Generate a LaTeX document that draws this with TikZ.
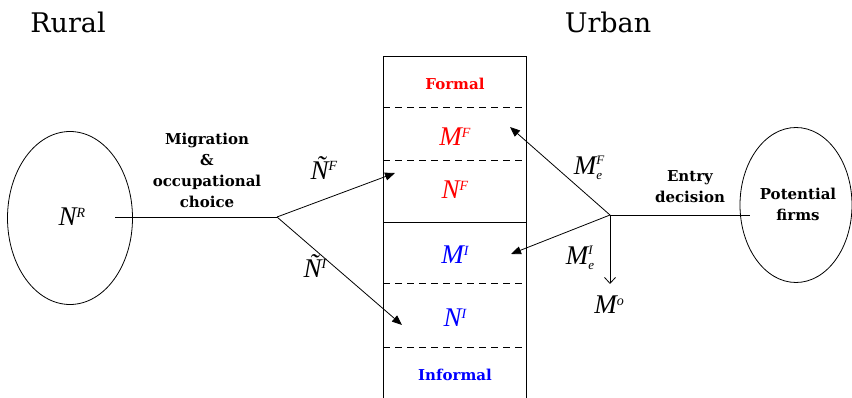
\documentclass[tikz,border=0pt]{standalone}
\usepackage{fontspec}
\setmainfont{Liberation Serif}
\newfontfamily\lblfont{DejaVu Serif}
\usetikzlibrary{arrows.meta,shapes.geometric}
\definecolor{fred}{RGB}{255,0,0}
\definecolor{iblue}{RGB}{0,0,255}
\newcommand\vsup[2]{#1\raisebox{8.6pt}{\fontsize{14}{14}\selectfont #2}}
\newcommand\vsupsub[3]{#1\rlap{\raisebox{10pt}{\fontsize{13}{13}\selectfont #2}}\raisebox{-5pt}{\fontsize{13}{13}\selectfont #3}}
\begin{document}
\begin{tikzpicture}[x=1pt,y=-1pt,
  head/.style={font=\lblfont\fontsize{27}{27}\selectfont, inner sep=0},
  lbl/.style={font=\lblfont\bfseries\fontsize{15}{21}\selectfont, align=center, inner sep=0},
  var/.style={font=\itshape\fontsize{27}{27}\selectfont, inner sep=0},
  arr/.style={-{Triangle[length=10pt,width=8pt]}, line width=0.8pt},
  oarr/.style={-{Straight Barb[length=6pt,width=11pt]}, line width=0.8pt},
  ln/.style={line width=0.8pt},
  dsh/.style={line width=0.8pt, dash pattern=on 7pt off 5pt},
  oval/.style={draw, ellipse, line width=0.8pt, inner sep=0}]
\useasboundingbox (0,0) rectangle (852,398);

% headings
\node[head] (rural) at (68,22) {Rural};
\node[head] (urban) at (608,22) {Urban};

% rural ellipse
\node[oval, minimum width=125pt, minimum height=173pt] (rell) at (70,218) {};
\node[var] (NR) at (72,217) {\vsup{N}{R}};
\coordinate (rstart) at (115,217);
\coordinate (rb) at (277,217);
\draw[ln] (rstart) -- (rb);
\node[lbl] (mig) at (207,170) {Migration\\\&\\occupational\\choice};

% urban column
\coordinate (bl) at (383,398);
\coordinate (tl) at (383,56);
\coordinate (tr) at (526,56);
\coordinate (br) at (526,398);
\draw[ln] (bl) -- (tl) -- (tr) -- (br);
\coordinate (d1l) at (383,107); \coordinate (d1r) at (526,107);
\coordinate (d2l) at (383,160); \coordinate (d2r) at (526,160);
\coordinate (sl) at (383,222);  \coordinate (sr) at (526,222);
\coordinate (d3l) at (383,283); \coordinate (d3r) at (526,283);
\coordinate (d4l) at (383,347); \coordinate (d4r) at (526,347);
\draw[dsh] (d1l) -- (d1r);
\draw[dsh] (d2l) -- (d2r);
\draw[ln] (sl) -- (sr);
\draw[dsh] (d3l) -- (d3r);
\draw[dsh] (d4l) -- (d4r);

\node[lbl, text=fred] (formal) at (455,84) {Formal};
\node[var, text=fred] (MF) at (455,137) {\vsup{M}{F}};
\node[var, text=fred] (NF) at (455,190) {\vsup{N}{F}};
\node[var, text=iblue] (MI) at (455,255) {\vsup{M}{I}};
\node[var, text=iblue] (NI) at (455,318) {\vsup{N}{I}};
\node[lbl, text=iblue] (informal) at (455,375) {Informal};

% left arrows
\coordinate (tNF) at (395,173);
\coordinate (tNI) at (402,325);
\draw[arr] (rb) -- (tNF);
\draw[arr] (rb) -- (tNI);
\node[var] (tilNF) at (324,168) {\vsup{Ñ}{F}};
\node[var] (tilNI) at (315,266) {\vsup{Ñ}{I}};

% right side
\node[oval, minimum width=112pt, minimum height=155pt] (fell) at (796,205) {};
\node[lbl] (pot) at (798,204) {Potential\\firms};
\node[lbl] (entry) at (690,187) {Entry\\decision};
\coordinate (fb) at (610,215);
\coordinate (fend) at (750,215);
\draw[ln] (fb) -- (fend);
\coordinate (tMF) at (510,127);
\coordinate (tMI) at (511,254);
\coordinate (tMo) at (610,284);
\draw[arr] (fb) -- (tMF);
\draw[arr] (fb) -- (tMI);
\draw[oarr] (fb) -- (tMo);
\node[var] (MeF) at (588,168) {\vsupsub{M}{F}{e}};
\node[var] (MeI) at (580,258) {\vsupsub{M}{I}{e}};
\node[var] (Mo) at (609,305) {\vsup{M}{o}};
\end{tikzpicture}
\end{document}
